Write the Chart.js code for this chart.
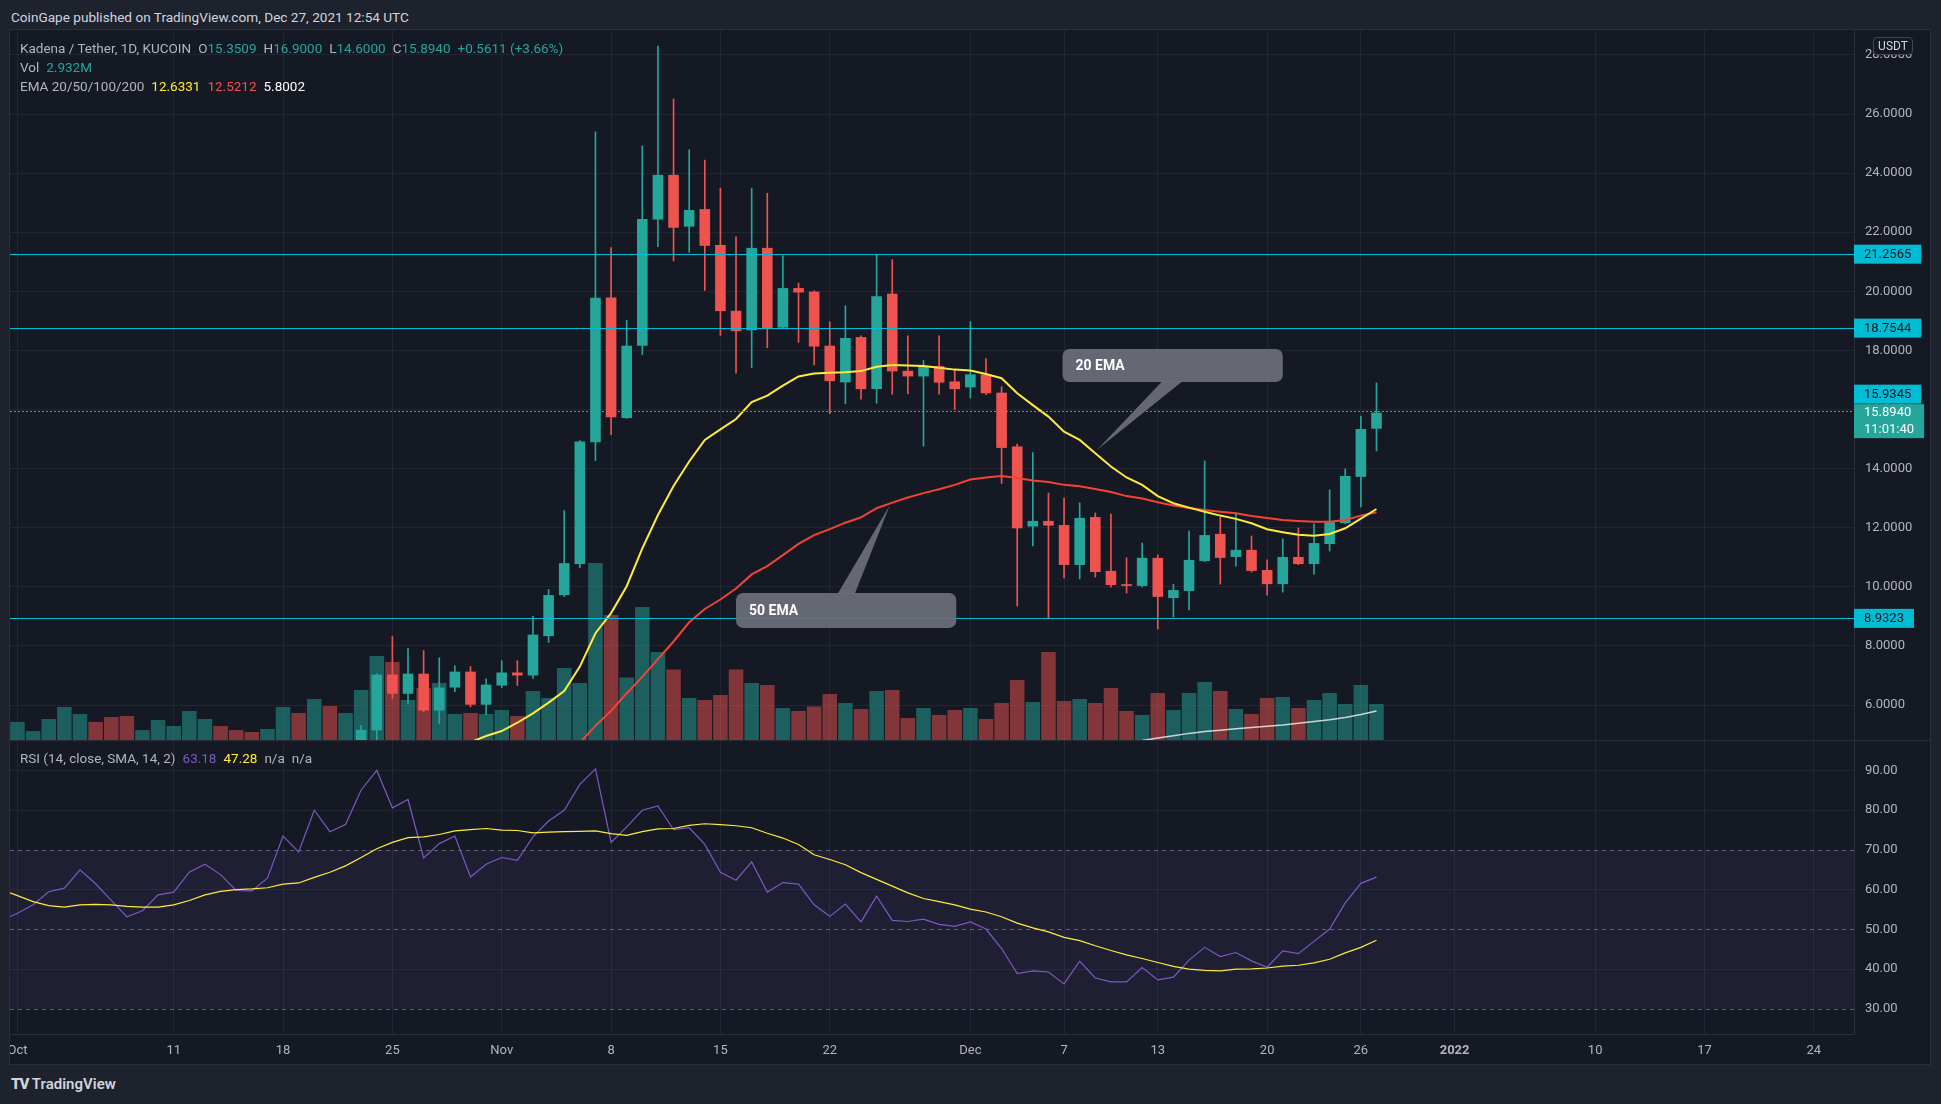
<!DOCTYPE html>
<html>
<head>
<meta charset="utf-8">
<script src="https://cdn.jsdelivr.net/npm/chart.js@4.4.1/dist/chart.umd.min.js"></script>
<style>
body { margin:0; background:#1e222d; width:1941px; height:1104px; overflow:hidden; position:relative; font-family:Roboto,"Noto Sans",sans-serif; }
.abs { position:absolute; white-space:nowrap; }
#pane { position:absolute; left:10px; top:30px; width:1920px; height:1034px; background:#151924; }
#c1 { position:absolute; left:10px; top:30px; }
#c2 { position:absolute; left:10px; top:740px; }
.lg { position:absolute; left:20px; font-size:13.5px; line-height:16px; color:#b2b5be; white-space:nowrap; }
.lg span { margin-left:7px; }
.lg span.n { margin-left:0; }
</style>
</head>
<body>
<div class="abs" style="left:11px;top:8px;font-size:13.6px;line-height:18px;color:#d1d4dc">CoinGape published on TradingView.com, Dec 27, 2021 12:54 UTC</div>
<div id="pane"></div>
<canvas id="c1" width="1920" height="710"></canvas>
<canvas id="c2" width="1920" height="324"></canvas>
<div class="abs" style="left:10px;top:740px;width:1920px;height:1px;background:#2a2e39"></div>
<div class="abs" style="left:9px;top:29px;width:1920px;height:1034px;border:1px solid #2a2e39"></div>

<div class="lg" style="top:40px">Kadena / Tether, 1D, KUCOIN<span>O<span class="n" style="color:#26a69a">15.3509</span></span><span>H<span class="n" style="color:#26a69a">16.9000</span></span><span>L<span class="n" style="color:#26a69a">14.6000</span></span><span>C<span class="n" style="color:#26a69a">15.8940</span></span><span style="color:#26a69a">+0.5611 (+3.66%)</span></div>
<div class="lg" style="top:59px">Vol<span style="color:#26a69a">2.932M</span></div>
<div class="lg" style="top:78px">EMA 20/50/100/200<span style="color:#ffeb3b">12.6331</span><span style="color:#ef5350">12.5212</span><span style="color:#ffffff">5.8002</span></div>
<div class="lg" style="top:750px">RSI (14, close, SMA, 14, 2)<span style="color:#7e57c2">63.18</span><span style="color:#ffeb3b">47.28</span><span>n/a</span><span>n/a</span></div>

<div class="abs" style="left:1873px;top:37px;width:38px;height:16px;border:1px solid #434651;border-radius:4px;background:#151924;color:#d1d4dc;font-size:12px;line-height:16px;text-align:center">USDT</div>

<div class="abs" style="left:11px;top:1074px;font-size:15px;line-height:20px;color:#d1d4dc;font-weight:600"><span style="font-weight:900;letter-spacing:-1px">TV</span> TradingView</div>

<script>
// x values are days counted from 1 Oct 2021 (Oct 1 = 0)
const tickDays = [0, 10, 17, 24, 31, 38, 45, 52, 61, 67, 73, 80, 86, 92, 101, 108, 115];
const tickLabels = ['Oct', '11', '18', '25', 'Nov', '8', '15', '22', 'Dec', '7', '13', '20', '26', '2022', '10', '17', '24'];
const priceTicks = [6, 8, 10, 12, 14, 16, 18, 20, 22, 24, 26, 28];
const rsiTicks = [30, 40, 50, 60, 70, 80, 90];

// candles from 23 Oct to 27 Dec
const candleStart = 22;
const open = [4.70, 5.14, 7.03, 6.38, 7.06, 5.81, 6.59, 7.13, 6.01,
  6.66, 7.10, 7.00, 8.33, 9.72, 10.77, 14.89, 19.79, 15.71, 18.16,
  22.43, 23.94, 22.19, 22.78, 21.57, 19.34, 18.68, 21.47, 18.77, 20.11,
  19.99, 18.16, 16.92, 18.45, 16.69, 19.92, 17.31, 17.12, 17.47, 16.95,
  16.75, 17.19, 16.57, 14.75, 12.04, 12.23, 12.09, 10.74, 12.36, 10.54,
  10.09, 10.03, 10.98, 9.62, 9.86, 10.87, 11.79, 11.01, 11.25, 10.57,
  10.09, 11.01, 10.77, 11.45, 12.16, 13.72, 15.3509];
const high = [5.30, 7.06, 8.32, 7.91, 7.84, 7.60, 7.33, 7.30, 6.89,
  7.50, 7.50, 9.00, 9.91, 12.58, 14.95, 25.40, 21.48, 19.02, 24.92,
  28.30, 26.51, 24.79, 24.44, 23.49, 21.84, 23.49, 23.32, 21.20, 20.28,
  20.02, 18.97, 19.51, 18.49, 21.26, 21.07, 18.49, 17.66, 18.49, 17.37,
  18.97, 17.72, 16.77, 14.83, 14.54, 13.17, 13.00, 12.84, 12.50, 12.46,
  10.98, 11.48, 11.08, 10.09, 11.89, 14.26, 12.36, 12.50, 11.72, 10.91,
  11.62, 11.99, 12.13, 13.28, 13.99, 15.78, 16.90];
const low = [4.60, 4.75, 6.21, 6.05, 5.77, 5.37, 6.45, 5.94, 5.67,
  6.59, 6.66, 6.90, 8.12, 9.67, 10.65, 14.27, 15.15, 15.70, 17.86,
  21.51, 21.03, 21.32, 20.03, 18.51, 17.23, 17.42, 18.09, 18.75, 18.27,
  17.51, 15.86, 16.19, 16.35, 16.21, 16.52, 16.54, 14.76, 16.52, 16.00,
  16.39, 16.50, 13.50, 9.35, 11.38, 8.91, 10.30, 10.27, 10.33, 9.99,
  9.79, 9.99, 8.57, 8.98, 9.22, 10.85, 10.09, 10.70, 10.50, 9.72,
  9.82, 10.75, 10.43, 11.21, 12.13, 12.70, 14.60];
const close = [5.16, 7.03, 6.38, 7.06, 5.81, 6.59, 7.13, 6.01, 6.69,
  7.10, 7.00, 8.38, 9.72, 10.80, 14.92, 19.78, 15.74, 18.16, 22.45,
  23.94, 22.15, 22.75, 21.54, 19.33, 18.65, 21.47, 18.75, 20.11, 19.96,
  18.13, 16.96, 18.42, 16.69, 19.83, 17.29, 17.12, 17.47, 16.91, 16.69,
  17.19, 16.55, 14.70, 11.98, 12.23, 12.07, 10.74, 12.33, 10.50, 10.06,
  10.03, 10.98, 9.66, 9.89, 10.91, 11.75, 10.98, 11.25, 10.54, 10.09,
  11.01, 10.77, 11.48, 12.19, 13.75, 15.34, 15.894];

// volume (millions), 1 Oct to 27 Dec
const volume = [1.47, 0.73, 1.71, 2.69, 2.12, 1.47, 1.87, 1.95, 0.81, 1.63,
  1.14, 2.36, 1.71, 1.14, 0.81, 0.65, 0.90, 2.69, 2.20, 3.34,
  2.77, 2.20, 4.07, 6.84, 6.35, 3.26, 4.23, 4.64, 2.12, 2.20, 2.12,
  2.44, 1.95, 3.99, 3.42, 5.86, 4.64, 14.41, 10.18, 5.09, 10.83,
  7.16, 5.74, 3.42, 3.26, 3.66, 5.74, 4.64, 4.48, 2.60, 2.36,
  2.73, 3.74, 3.01, 2.52, 3.99, 4.07, 1.79, 2.60, 2.04, 2.44,
  2.60, 1.71, 3.01, 4.88, 3.09, 7.16, 3.17, 3.34, 3.01, 4.23,
  2.36, 2.04, 3.83, 2.44, 3.83, 4.72, 3.99, 2.52, 2.12, 3.42,
  3.50, 2.60, 3.26, 3.83, 2.93, 4.48, 2.932];
// up/down of the days whose candles sit below the visible range (1-22 Oct)
const volUpEarly = [1, 1, 1, 1, 1, 0, 0, 0, 1, 1, 1, 1, 1, 0, 0, 0, 1, 1, 0, 1, 0, 1];

const ema20Start = 29;
const ema20 = [4.74, 4.95, 5.12, 5.40, 5.72, 6.08, 6.47, 7.30, 8.43, 9.11,
  10.02, 11.30, 12.43, 13.41, 14.24, 14.97, 15.33, 15.68, 16.25, 16.47,
  16.81, 17.12, 17.22, 17.24, 17.26, 17.30, 17.45, 17.51, 17.49, 17.47,
  17.41, 17.35, 17.32, 17.20, 17.06, 16.55, 16.15, 15.76, 15.25, 14.97,
  14.52, 14.07, 13.70, 13.45, 13.07, 12.83, 12.68, 12.54, 12.41, 12.30,
  12.15, 11.95, 11.85, 11.76, 11.73, 11.79, 11.98, 12.31, 12.6331];
const ema50Start = 36;
const ema50 = [4.72, 5.30, 5.80, 6.40, 6.95, 7.55, 8.15, 8.80, 9.25, 9.57,
  9.94, 10.42, 10.70, 11.07, 11.45, 11.75, 11.95, 12.17, 12.35, 12.66,
  12.85, 13.02, 13.17, 13.30, 13.45, 13.63, 13.70, 13.75, 13.68, 13.60,
  13.55, 13.45, 13.40, 13.31, 13.21, 13.07, 12.99, 12.86, 12.75, 12.67,
  12.60, 12.54, 12.49, 12.40, 12.33, 12.26, 12.23, 12.20, 12.20, 12.26,
  12.41, 12.5212];
const ema200Start = 72;
const ema200 = [4.80, 4.88, 4.96, 5.04, 5.10, 5.15, 5.20, 5.24, 5.28, 5.32,
  5.38, 5.44, 5.50, 5.58, 5.68, 5.8002];

// RSI from 30 Sep
const rsiStart = -1;
const rsi = [52.3, 54.1, 56.2, 59.5, 60.4, 65.0, 61.5, 57.3, 53.2, 54.7, 58.7,
  59.4, 64.4, 66.4, 63.8, 59.8, 59.7, 62.9, 73.5, 69.5, 80.0,
  74.6, 76.4, 85.1, 90.0, 80.6, 82.7, 68.0, 71.6, 73.5, 63.2,
  66.4, 68.1, 67.4, 73.3, 77.3, 80.0, 86.5, 90.4, 71.9, 75.8,
  80.0, 81.1, 75.1, 75.6, 71.4, 64.4, 62.4, 67.0, 59.4, 61.8,
  61.4, 56.2, 53.3, 56.4, 51.9, 58.4, 52.3, 52.0, 52.6, 51.3,
  50.8, 51.9, 50.1, 45.2, 38.9, 39.6, 39.3, 36.3, 42.0, 37.8,
  36.8, 36.8, 40.4, 37.3, 38.0, 42.3, 45.5, 43.2, 44.2, 42.1,
  40.5, 44.6, 43.9, 47.0, 50.1, 56.7, 61.6, 63.18];
const rsiSma = [60.0, 58.5, 57.0, 56.0, 55.6, 56.2, 56.3, 56.2, 55.8, 55.6, 55.6,
  56.2, 57.3, 58.7, 59.6, 60.0, 60.2, 60.5, 61.4, 61.7, 63.1,
  64.4, 66.0, 68.1, 70.3, 71.9, 73.1, 73.3, 73.9, 74.8, 75.1,
  75.4, 75.0, 74.9, 74.3, 74.5, 74.6, 74.7, 74.8, 74.1, 73.7,
  74.6, 75.3, 75.4, 76.2, 76.6, 76.4, 76.1, 75.6, 74.2, 73.0,
  71.4, 68.8, 67.6, 66.3, 64.3, 62.6, 60.9, 59.2, 57.8, 57.0,
  56.2, 55.1, 54.4, 53.2, 51.6, 50.4, 49.4, 48.0, 47.2, 45.9,
  44.7, 43.6, 42.7, 41.7, 40.7, 40.0, 39.7, 39.6, 40.0, 40.1,
  40.3, 40.8, 41.0, 41.6, 42.5, 44.1, 45.5, 47.28];

// drawn horizontal levels
const levels = [21.2565, 18.7544, 15.9345, 8.9323];
const lastPrice = 15.894;
const countdown = '11:01:40';

// callout boxes (x in days, y in price)
const notes = [
  { text: '20 EMA', box: [66.9, 18.05, 81.0, 16.93], base: [73.3, 74.6], tip: [69.1, 14.63], up: false },
  { text: '50 EMA', box: [46.0, 9.79, 60.1, 8.61], base: [52.5, 53.6], tip: [55.85, 12.77], up: true }
];

const UP = '#26a69a', DOWN = '#ef5350', CYAN = '#00bcd4';
const GRID = '#222632', AXIS = '#2a2e39', TXT = '#b2b5be';
const xMin = -0.48, xMax = 117.57;

Chart.defaults.font.family = 'Roboto, "Noto Sans", sans-serif';
Chart.defaults.font.size = 13;

const series = (arr, start) => arr.map((v, i) => ({ x: start + i, y: v }));
const candleColors = open.map((o, i) => close[i] >= o ? UP : DOWN);
const bodies = open.map((o, i) => ({ x: candleStart + i, y: [o, close[i]] }));
const wicks = open.map((o, i) => ({ x: candleStart + i, y: [low[i], high[i]] }));
const volColors = volume.map((v, i) => {
  let up = i < volUpEarly.length ? volUpEarly[i] : (close[i - candleStart] >= open[i - candleStart] ? 1 : 0);
  return up ? 'rgba(38,166,154,0.5)' : 'rgba(239,83,80,0.5)';
});

const xTicks = s => { s.ticks = tickDays.map(v => ({ value: v })); };
const noPad = s => { s.paddingLeft = 0; s.paddingRight = 0; s.paddingTop = 0; s.paddingBottom = 0; };

const priceExtras = {
  id: 'priceExtras',
  afterDatasetsDraw(chart) {
    const { ctx, chartArea: a, scales: { x, y } } = chart;
    ctx.save();
    ctx.lineWidth = 1;
    ctx.strokeStyle = CYAN;
    levels.forEach(v => {
      const py = Math.round(y.getPixelForValue(v)) + 0.5;
      ctx.setLineDash(v === 15.9345 ? [2, 2] : []);
      ctx.beginPath();
      ctx.moveTo(a.left, py);
      ctx.lineTo(a.right, py);
      ctx.stroke();
    });
    ctx.setLineDash([]);
    notes.forEach(n => {
      const x1 = x.getPixelForValue(n.box[0]), y1 = y.getPixelForValue(n.box[1]);
      const x2 = x.getPixelForValue(n.box[2]), y2 = y.getPixelForValue(n.box[3]);
      const by = n.up ? y1 + 1 : y2 - 1;
      ctx.fillStyle = 'rgba(108,111,122,0.92)';
      ctx.beginPath();
      ctx.moveTo(x.getPixelForValue(n.base[0]), by);
      ctx.lineTo(x.getPixelForValue(n.tip[0]), y.getPixelForValue(n.tip[1]));
      ctx.lineTo(x.getPixelForValue(n.base[1]), by);
      ctx.closePath();
      ctx.fill();
      ctx.beginPath();
      ctx.roundRect(x1, y1, x2 - x1, y2 - y1, 7);
      ctx.fill();
      ctx.fillStyle = '#ffffff';
      ctx.font = 'bold 14px Roboto, sans-serif';
      ctx.textBaseline = 'middle';
      ctx.fillText(n.text, x1 + 13, (y1 + y2) / 2 + 1);
    });
    ctx.restore();
  },
  afterDraw(chart) {
    const { ctx, scales: { y } } = chart;
    const left = y.left;
    ctx.save();
    ctx.font = '13px Roboto, sans-serif';
    ctx.textBaseline = 'middle';
    const tag = (txt, top, h, bg, fg) => {
      const w = ctx.measureText(txt).width + 20;
      ctx.fillStyle = bg;
      ctx.fillRect(left, top, w, h);
      ctx.fillStyle = fg;
      ctx.fillText(txt, left + 10, top + h / 2 + 0.5);
    };
    const lastY = y.getPixelForValue(lastPrice);
    levels.forEach(v => {
      if (v === 15.9345) return;
      const py = y.getPixelForValue(v);
      tag(v.toFixed(4), py - 9.5, 19, CYAN, '#131722');
    });
    // level label pushed above the last-price tag
    tag((15.9345).toFixed(4), lastY - 28, 19, CYAN, '#131722');
    const t = lastPrice.toFixed(4);
    const w = ctx.measureText(countdown).width + 20;
    ctx.fillStyle = UP;
    ctx.fillRect(left, lastY - 8.5, w, 34);
    ctx.fillStyle = '#ffffff';
    ctx.fillText(t, left + 10, lastY + 0.5);
    ctx.fillText(countdown, left + 10, lastY + 17);
    ctx.restore();
  }
};

new Chart(document.getElementById('c1'), {
  type: 'bar',
  data: {
    datasets: [
      { type: 'line', data: series(ema20, ema20Start), borderColor: '#ffeb3b', borderWidth: 2, pointRadius: 0, order: 0, yAxisID: 'y' },
      { type: 'line', data: series(ema50, ema50Start), borderColor: '#f44336', borderWidth: 2, pointRadius: 0, order: 0, yAxisID: 'y' },
      { type: 'line', data: series(ema200, ema200Start), borderColor: 'rgba(235,235,240,0.85)', borderWidth: 1.5, pointRadius: 0, order: 0, yAxisID: 'y' },
      { data: bodies, backgroundColor: candleColors, grouped: false, categoryPercentage: 1, barPercentage: 0.68, minBarLength: 1, order: 1, yAxisID: 'y' },
      { data: wicks, backgroundColor: candleColors, grouped: false, barThickness: 1, order: 2, yAxisID: 'y' },
      { data: series(volume, 0), backgroundColor: volColors, grouped: false, categoryPercentage: 1, barPercentage: 0.93, order: 3, yAxisID: 'yv' }
    ]
  },
  options: {
    responsive: false,
    animation: false,
    events: [],
    layout: { padding: 0 },
    plugins: { legend: { display: false }, tooltip: { enabled: false } },
    scales: {
      x: {
        type: 'linear', min: xMin, max: xMax, offset: false,
        afterBuildTicks: xTicks,
        ticks: { display: false },
        grid: { color: GRID, drawTicks: false, offset: false },
        border: { display: false },
        afterFit: s => { s.height = 0; noPad(s); }
      },
      y: {
        position: 'right', min: 4.816, max: 28.843,
        afterBuildTicks: s => { s.ticks = priceTicks.map(v => ({ value: v })); },
        ticks: { color: TXT, padding: 11, callback: v => Number(v).toFixed(4) },
        grid: { color: GRID, drawTicks: false },
        border: { color: AXIS },
        afterFit: s => { s.width = 76; noPad(s); }
      },
      yv: { display: false, min: 0, max: 57.8 }
    }
  },
  plugins: [priceExtras]
});

const rsiBands = {
  id: 'rsiBands',
  beforeDatasetsDraw(chart) {
    const { ctx, chartArea: a, scales: { y } } = chart;
    ctx.save();
    const t = y.getPixelForValue(70), b = y.getPixelForValue(30);
    ctx.fillStyle = 'rgba(126,87,194,0.1)';
    ctx.fillRect(a.left, t, a.right - a.left, b - t);
    ctx.strokeStyle = 'rgba(120,123,134,0.75)';
    ctx.lineWidth = 1;
    ctx.setLineDash([4, 4]);
    [70, 50, 30].forEach(v => {
      const py = Math.round(y.getPixelForValue(v)) + 0.5;
      ctx.beginPath();
      ctx.moveTo(a.left, py);
      ctx.lineTo(a.right, py);
      ctx.stroke();
    });
    ctx.restore();
  }
};

new Chart(document.getElementById('c2'), {
  type: 'line',
  data: {
    datasets: [
      { data: series(rsi, rsiStart), borderColor: '#7e57c2', borderWidth: 1.2, pointRadius: 0, order: 1 },
      { data: series(rsiSma, rsiStart), borderColor: '#ffeb3b', borderWidth: 1.2, pointRadius: 0, order: 0 }
    ]
  },
  options: {
    responsive: false,
    animation: false,
    events: [],
    layout: { padding: 0 },
    plugins: { legend: { display: false }, tooltip: { enabled: false } },
    scales: {
      x: {
        type: 'linear', min: xMin, max: xMax, offset: false,
        afterBuildTicks: xTicks,
        ticks: {
          autoSkip: false, maxRotation: 0, padding: 9, color: TXT,
          callback: v => tickLabels[tickDays.indexOf(v)],
          font: c => (c.tick && c.tick.value === 92) ? { weight: 'bold' } : {}
        },
        grid: { color: GRID, drawTicks: false },
        border: { color: AXIS },
        afterFit: s => { s.height = 30; noPad(s); }
      },
      y: {
        position: 'right', min: 23.7, max: 97.67,
        afterBuildTicks: s => { s.ticks = rsiTicks.map(v => ({ value: v })); },
        ticks: { color: TXT, padding: 11, callback: v => Number(v).toFixed(2) },
        grid: { color: c => [30, 50, 70].includes(c.tick && c.tick.value) ? 'rgba(0,0,0,0)' : GRID, drawTicks: false },
        border: { color: AXIS },
        afterFit: s => { s.width = 76; noPad(s); }
      }
    }
  },
  plugins: [rsiBands]
});
</script>
</body>
</html>
